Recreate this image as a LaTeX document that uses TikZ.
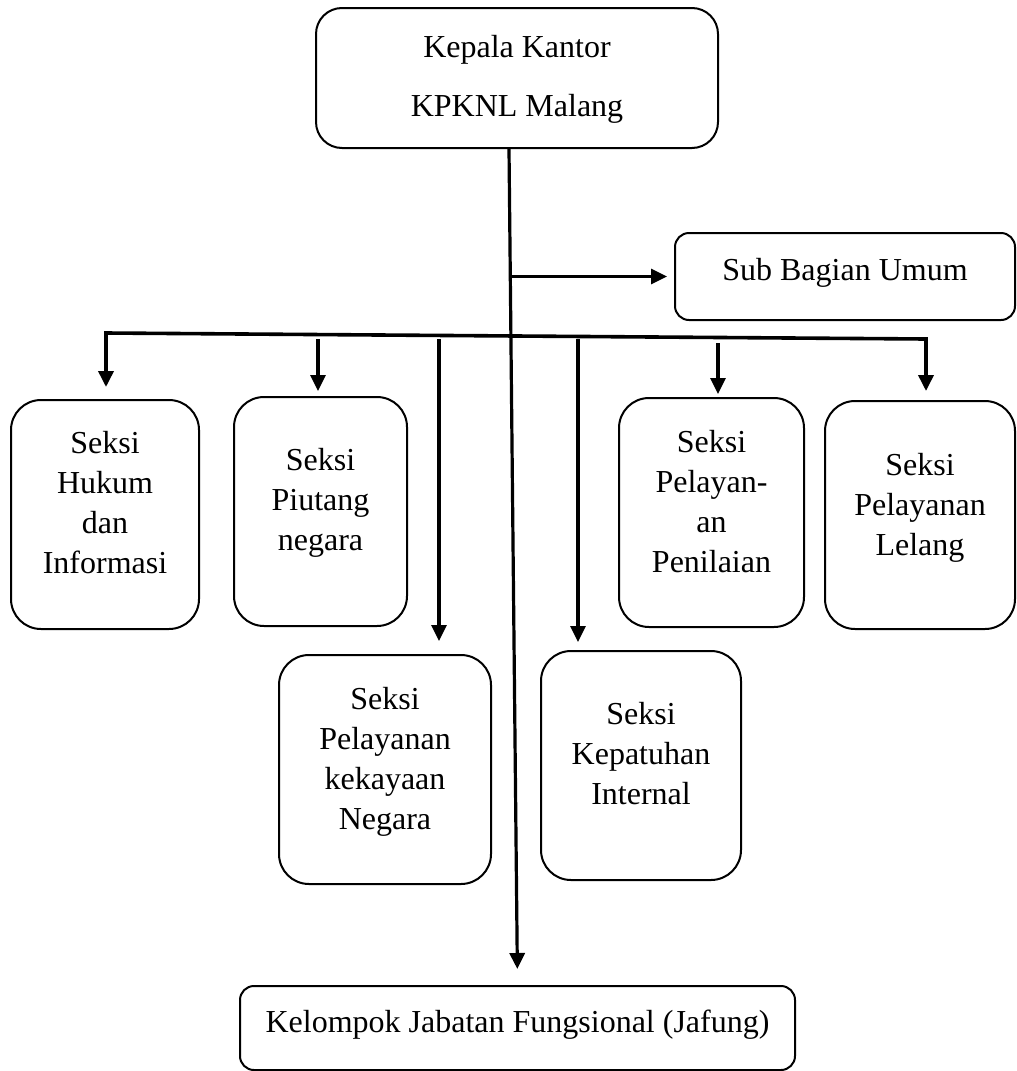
\documentclass[tikz,border=0pt]{standalone}
\usepackage{fontspec}
\setmainfont{Liberation Serif}
\usetikzlibrary{arrows.meta}

\begin{document}
\begin{tikzpicture}[x=0.5pt,y=-0.5pt,
  kotak/.style={draw, line width=1pt, rounded corners=15pt, align=center, inner xsep=0pt, inner ysep=0pt, font=\fontsize{16pt}{20pt}\selectfont},
  kecil/.style={rounded corners=7pt},
  panah/.style={-{Triangle[length=8pt,width=7.5pt]}, line width=1.6pt}]
\useasboundingbox (0,0) rectangle (1017,1071);
\node[kotak, rounded corners=13pt, minimum width=201pt, text height=54pt, text depth=16pt] (kepala) at (517,78) {Kepala Kantor\\[9.5pt]KPKNL Malang};
\node[kotak, kecil, minimum width=170pt, text height=23.5pt, text depth=20pt] (umum) at (845,276.5) {Sub Bagian Umum};
\node[kotak, minimum width=94pt, text height=86.5pt, text depth=28pt] (hukum) at (105,514.5) {Seksi\\Hukum\\dan\\Informasi};
\node[kotak, minimum width=86.5pt, text height=76.5pt, text depth=38pt] (piutang) at (320.5,511.5) {Seksi\\Piutang\\negara};
\node[kotak, minimum width=92.5pt, text height=87pt, text depth=27.5pt] (penilaian) at (711.5,512.5) {Seksi\\Pelayan-\\an\\Penilaian};
\node[kotak, minimum width=95pt, text height=77pt, text depth=37pt] (lelang) at (920,515) {Seksi\\Pelayanan\\Lelang};
\node[kotak, minimum width=106pt, text height=87pt, text depth=27.5pt] (kekayaan) at (385,769.5) {Seksi\\Pelayanan\\kekayaan\\Negara};
\node[kotak, minimum width=100pt, text height=76.5pt, text depth=38pt] (kepatuhan) at (641,765.5) {Seksi\\Kepatuhan\\Internal};
\node[kotak, kecil, minimum width=277.5pt, text height=23pt, text depth=19pt] (jafung) at (517.5,1028) {Kelompok Jabatan Fungsional (Jafung)};

\coordinate (trunk) at ([xshift=-4pt]kepala.south);
\draw[panah, shorten >=8pt] (trunk) -- (jafung.north);
\draw[panah, shorten >=3.5pt] (trunk |- umum.west) -- (umum.west);

\coordinate (kiri) at (106,333);
\coordinate (kanan) at (926,339);
\draw[{Triangle[length=8pt,width=7.5pt]}-{Triangle[length=8pt,width=7.5pt]}, line width=1.8pt, shorten <=6pt, shorten >=4.5pt]
  (kiri |- hukum.north) -- (kiri) -- (kanan) -- (kanan |- lelang.north);

\coordinate (d2) at (318,339);
\coordinate (d3) at (439,339);
\coordinate (d4) at (578,339);
\coordinate (d5) at (718,343);
\draw[panah, shorten >=2.5pt] (d2) -- (d2 |- piutang.north);
\draw[panah, shorten >=6.5pt] (d3) -- (d3 |- kekayaan.north);
\draw[panah, shorten >=4pt] (d4) -- (d4 |- kepatuhan.north);
\draw[panah, shorten >=1.5pt] (d5) -- (d5 |- penilaian.north);
\end{tikzpicture}
\end{document}
